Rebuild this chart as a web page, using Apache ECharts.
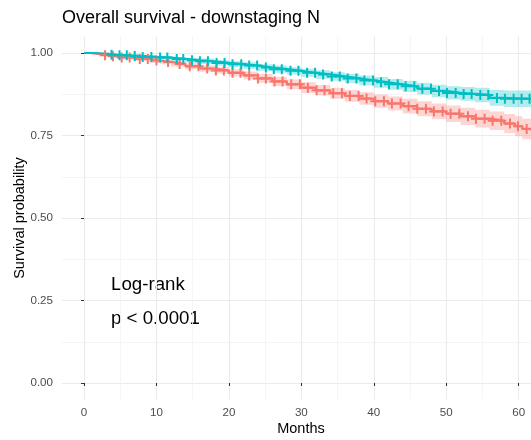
<!DOCTYPE html>
<html>
<head>
<meta charset="utf-8">
<script src="https://cdn.jsdelivr.net/npm/echarts@6/dist/echarts.min.js"></script>
<style>html,body{margin:0;padding:0;background:#fff;}#c{width:531px;height:440px;}</style>
</head>
<body>
<div id="c"></div>
<script>
// ---- data ----
const tealTime  = [0,1.5,3,4.5,6,8,10,12,14,16,18,20,22,24,26,28,30,32,34,36,38,40,42,44,46,48,50,52,54,56,58,61.7];
const tealSurv  = [1,0.998,0.995,0.993,0.991,0.988,0.986,0.982,0.978,0.975,0.970,0.966,0.962,0.956,0.951,0.946,0.940,0.935,0.929,0.923,0.917,0.911,0.905,0.899,0.892,0.885,0.879,0.876,0.873,0.864,0.861,0.859];
const tealLower = [1.000,0.997,0.993,0.990,0.987,0.983,0.980,0.976,0.971,0.967,0.962,0.957,0.952,0.946,0.940,0.935,0.928,0.922,0.916,0.909,0.902,0.895,0.889,0.882,0.874,0.866,0.859,0.855,0.851,0.840,0.836,0.833];
const tealUpper = [1.000,0.999,0.997,0.996,0.995,0.993,0.992,0.988,0.985,0.983,0.978,0.975,0.972,0.966,0.962,0.957,0.952,0.948,0.942,0.937,0.932,0.927,0.921,0.916,0.910,0.904,0.899,0.897,0.895,0.888,0.886,0.885];
const tealCensor = [3.8,4.9,5.9,7.0,8.1,9.3,10.5,11.5,12.8,13.7,14.9,16.0,17.1,18.3,19.4,20.5,21.7,22.8,23.9,25.1,26.2,27.3,28.5,29.6,30.8,31.9,33.0,34.2,35.3,36.4,37.6,38.7,39.9,41.0,42.1,43.3,44.4,45.6,46.7,47.9,49.0,50.1,51.3,52.4,53.5,54.7,55.8,57.0,58.1,59.3,60.4,61.5];

const redTime  = [0,1,2,3.5,5,7,9,10.5,12,14,16,18,20,22,24,26,28,30,32,34,36,38,40,42,44,46,48,50,52,54,56,58,59.5,60.5,61.7];
const redSurv  = [1,0.997,0.993,0.990,0.986,0.982,0.977,0.973,0.967,0.960,0.953,0.947,0.940,0.932,0.923,0.914,0.905,0.895,0.887,0.878,0.870,0.862,0.854,0.847,0.839,0.831,0.823,0.816,0.808,0.801,0.795,0.786,0.778,0.770,0.765];
const redLower = [1.000,0.995,0.990,0.986,0.981,0.976,0.970,0.966,0.959,0.951,0.943,0.937,0.929,0.920,0.910,0.900,0.890,0.879,0.871,0.861,0.852,0.843,0.834,0.826,0.817,0.808,0.799,0.791,0.782,0.774,0.767,0.757,0.748,0.739,0.733];
const redUpper = [1.000,0.999,0.996,0.994,0.991,0.988,0.984,0.980,0.975,0.969,0.963,0.957,0.951,0.944,0.936,0.928,0.920,0.911,0.903,0.895,0.888,0.881,0.874,0.868,0.861,0.854,0.847,0.841,0.834,0.828,0.823,0.815,0.808,0.801,0.797];
const redCensor = [2.9,4.0,5.2,6.3,7.7,8.8,10.0,11.6,13.2,14.6,15.8,17.0,18.2,19.3,20.5,21.6,22.8,24.0,25.1,26.3,27.4,28.6,29.8,30.9,32.1,33.2,34.4,35.6,36.7,37.9,39.0,40.2,41.4,42.5,43.7,44.8,46.0,47.2,48.3,49.5,50.6,51.8,53.0,54.1,55.3,56.4,57.6,58.8,59.9,61.1];

const xMajor = [0,10,20,30,40,50,60];
const xMinor = [5,15,25,35,45,55];
const yMajor = [0,0.25,0.5,0.75,1];
const yMinor = [0.125,0.375,0.625,0.875];

const RED = '#F8766D', TEAL = '#00BFC4';
const FONT = '"Liberation Sans", Arial, sans-serif';

function pairs(t, v){ return t.map((x,i)=>[x, v[i]]); }
function stepAt(t, s, x){ let v = s[0]; for(let i=0;i<t.length;i++){ if(t[i] <= x) v = s[i]; } return v; }
function censorPts(c, t, s){ return c.map(x => [x, stepAt(t, s, x)]); }

const plus = 'path://M4,0H6V4H10V6H6V10H4V6H0V4H4Z';

// step-shaped confidence band as one polygon, positioned by the axes
function bandSeries(t, lo, up, color){
  return {
    type:'custom', silent:true, z:1,
    data: t.map((x,i)=>[x, lo[i], up[i]]),
    encode:{x:0, y:[1,2]},
    renderItem:function(params, api){
      if(params.dataIndex !== 0) return null;
      const top = [], bot = [];
      for(let i=0;i<t.length;i++){
        const xn = i < t.length-1 ? t[i+1] : t[i];
        top.push(api.coord([t[i], up[i]]));
        top.push(api.coord([xn, up[i]]));
        bot.push(api.coord([t[i], lo[i]]));
        bot.push(api.coord([xn, lo[i]]));
      }
      const pts = top.concat(bot.reverse());
      return {type:'polygon', shape:{points:pts}, style:{fill:color, opacity:0.3}};
    }
  };
}

const chart = echarts.init(document.getElementById('c'), null, {renderer:'canvas'});
chart.setOption({
  animation:false,
  backgroundColor:'#fff',
  grid:{left:62, right:0, top:36.5, bottom:40.5, containLabel:false, outerBoundsMode:'none'},
  xAxis:[
    {type:'value', min:-3.04, max:61.7,
     axisLine:{show:false},
     axisTick:{show:true, length:3, customValues:xMajor, lineStyle:{color:'#333', width:1}},
     axisLabel:{customValues:xMajor, color:'#4D4D4D', fontSize:11.6, fontFamily:FONT, margin:7},
     splitLine:{show:true, lineStyle:{color:'#EBEBEB', width:1.1}}},
    {type:'value', min:-3.04, max:61.7, position:'bottom',
     axisLine:{show:false},
     axisTick:{show:false, customValues:xMinor},
     axisLabel:{show:false, customValues:xMinor},
     splitLine:{show:true, lineStyle:{color:'#F2F2F2', width:0.8}}}
  ],
  yAxis:[
    {type:'value', min:-0.05, max:1.05,
     axisLine:{show:false},
     axisTick:{show:true, length:3, customValues:yMajor, lineStyle:{color:'#333', width:1}},
     axisLabel:{customValues:yMajor, color:'#4D4D4D', fontSize:11.6, fontFamily:FONT, margin:9,
                formatter:v=>(+v).toFixed(2)},
     splitLine:{show:true, lineStyle:{color:'#EBEBEB', width:1.1}}},
    {type:'value', min:-0.05, max:1.05, position:'left',
     axisLine:{show:false},
     axisTick:{show:false, customValues:yMinor},
     axisLabel:{show:false, customValues:yMinor},
     splitLine:{show:true, lineStyle:{color:'#F2F2F2', width:0.8}}}
  ],
  graphic:[
    {type:'text', left:62, top:9, style:{text:'Overall survival - downstaging N', fill:'#000', font:'18px '+FONT}},
    {type:'text', x:301, y:429, style:{text:'Months', fill:'#000', font:'14.5px '+FONT, align:'center', verticalAlign:'middle'}},
    {type:'text', x:20, y:218, rotation:Math.PI/2, style:{text:'Survival probability', fill:'#000', font:'14.5px '+FONT, align:'center', verticalAlign:'middle'}},
    {type:'text', x:111, y:285, style:{text:'Log-rank', fill:'#000', font:'18.7px '+FONT, verticalAlign:'middle'}},
    {type:'text', x:111, y:318.5, style:{text:'p < 0.0001', fill:'#000', font:'18.7px '+FONT, verticalAlign:'middle'}}
  ],
  series:[
    bandSeries(redTime, redLower, redUpper, RED),
    bandSeries(tealTime, tealLower, tealUpper, TEAL),
    {type:'line', name:'red', step:'end', data:pairs(redTime, redSurv), symbol:'none',
     lineStyle:{color:RED, width:2.2}, z:3},
    {type:'line', name:'teal', step:'end', data:pairs(tealTime, tealSurv), symbol:'none',
     lineStyle:{color:TEAL, width:2.2}, z:3},
    {type:'scatter', name:'redC', data:censorPts(redCensor, redTime, redSurv), symbol:plus, symbolSize:10,
     itemStyle:{color:RED, opacity:1}, z:4},
    {type:'scatter', name:'tealC', data:censorPts(tealCensor, tealTime, tealSurv), symbol:plus, symbolSize:10,
     itemStyle:{color:TEAL, opacity:1}, z:4}
  ]
});
</script>
</body>
</html>
